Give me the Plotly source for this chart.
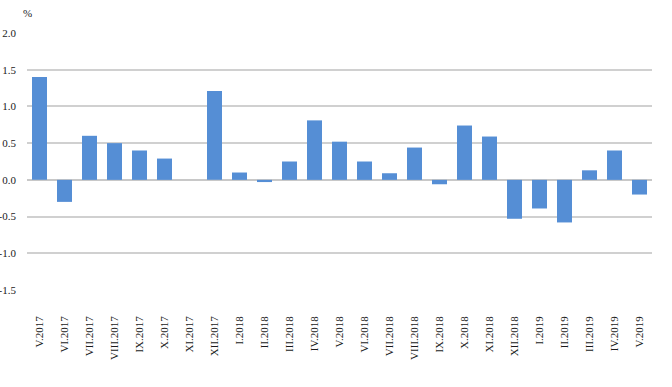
import plotly.graph_objects as go

categories = ["V.2017", "VI.2017", "VII.2017", "VIII.2017", "IX.2017", "X.2017", "XI.2017", "XII.2017",
              "I.2018", "II.2018", "III.2018", "IV.2018", "V.2018", "VI.2018", "VII.2018", "VIII.2018",
              "IX.2018", "X.2018", "XI.2018", "XII.2018", "I.2019", "II.2019", "III.2019", "IV.2019", "V.2019"]
values = [1.40, -0.30, 0.60, 0.50, 0.40, 0.29, 0.0, 1.21,
          0.10, -0.03, 0.25, 0.81, 0.52, 0.25, 0.09, 0.44,
          -0.06, 0.74, 0.59, -0.53, -0.39, -0.58, 0.13, 0.40, -0.20]
y_ticks = [-1.5, -1.0, -0.5, 0.0, 0.5, 1.0, 1.5, 2.0]

fig = go.Figure(go.Bar(x=categories, y=values, marker=dict(color="#558ED5", line=dict(width=0))))

font = dict(family="Liberation Serif, Times New Roman, serif", size=11, color="#1a1a1a")
fig.update_layout(
    width=672, height=387,
    margin=dict(l=27, r=20, t=33, b=97),
    paper_bgcolor="white", plot_bgcolor="white",
    bargap=0.4, showlegend=False, font=font,
    xaxis=dict(tickangle=-90, showgrid=False, showline=False, zeroline=False, automargin=False,
               ticks="", ticklabelstandoff=23, tickfont=font),
    yaxis=dict(range=[-1.5, 2.0], tickvals=y_ticks, ticktext=[f"{v:.1f}" for v in y_ticks],
               showgrid=True, gridcolor="#D0D0D0", gridwidth=1.5, automargin=False,
               zeroline=True, zerolinecolor="#C8C8C8", zerolinewidth=1.5,
               showline=False, ticks="", ticklabelstandoff=10, tickfont=font),
    annotations=[dict(text="%", x=0, y=2.0, xref="paper", yref="y", xanchor="center",
                      yanchor="bottom", yshift=12, showarrow=False, font=font)],
)
fig.write_html("out.html", config={"displayModeBar": False},
               post_script="document.body.style.margin='0';document.body.style.overflow='hidden';")
